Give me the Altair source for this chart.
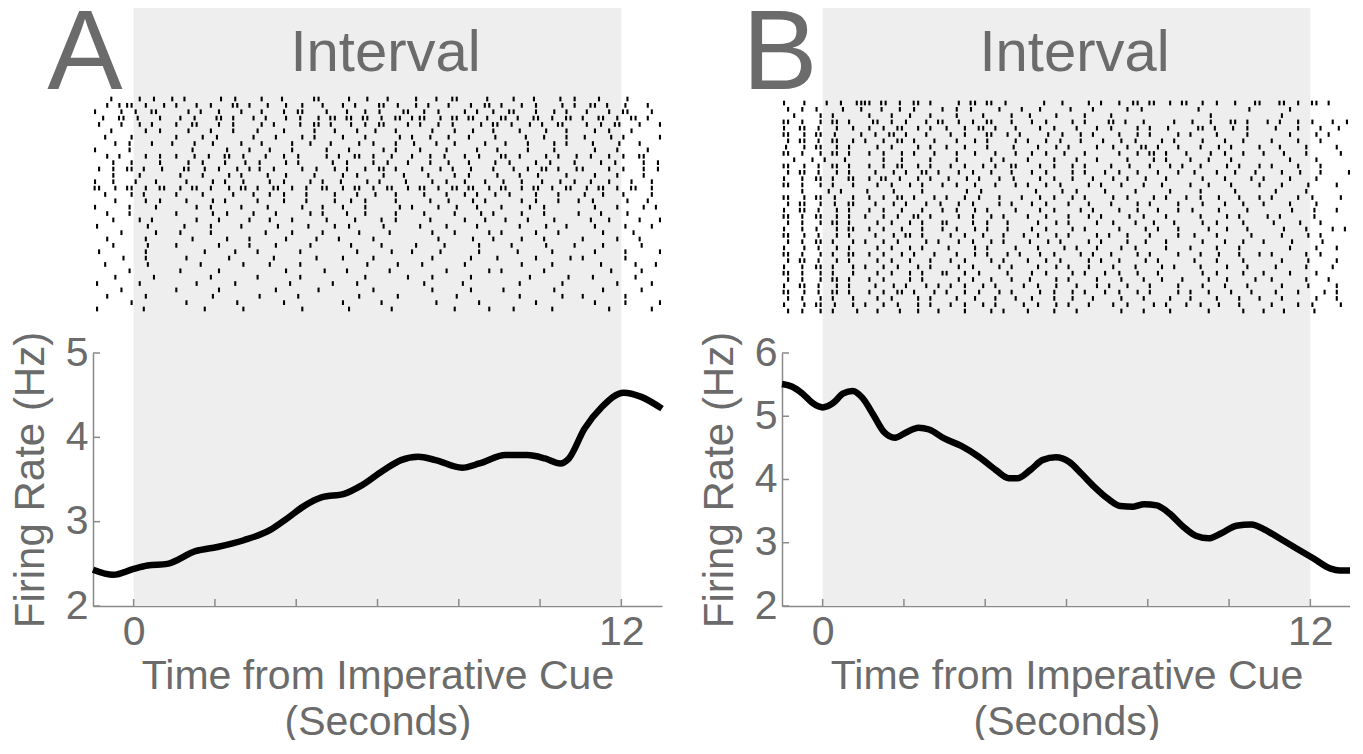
import altair as alt
import pandas as pd

# ---------------- data ----------------
interval = [0, 12]
x_domain = [-1, 13]
x_tick_marks = [0, 2, 4, 6, 8, 10, 12]
x_tick_labels = [0, 12]
y_ticks_a = [2, 3, 4, 5]
y_ticks_b = [2, 3, 4, 5, 6]

rate_a_t = [-1.0, -0.5, 0.0, 0.34, 0.83, 1.52, 2.06, 2.71, 3.35, 3.78, 4.21, 4.64, 5.18, 5.61, 6.15,
            6.58, 7.0, 7.43, 8.08, 8.51, 9.15, 9.69, 10.12, 10.5, 10.71, 11.09, 11.52, 12.06, 12.49, 13.0]
rate_a_hz = [2.43, 2.37, 2.44, 2.48, 2.50, 2.65, 2.70, 2.78, 2.90, 3.04, 3.19, 3.29, 3.33, 3.43, 3.61,
             3.73, 3.77, 3.73, 3.64, 3.69, 3.79, 3.79, 3.75, 3.69, 3.75, 4.10, 4.36, 4.53, 4.48, 4.34]

rate_b_t = [-1.0, -0.76, -0.5, -0.23, 0.0, 0.24, 0.51, 0.74, 0.98, 1.25, 1.51, 1.78, 2.04, 2.36, 2.62,
            2.99, 3.41, 3.84, 4.26, 4.58, 4.79, 5.11, 5.42, 5.74, 6.06, 6.37, 6.69, 7.01, 7.33, 7.64,
            7.91, 8.22, 8.54, 8.86, 9.18, 9.49, 9.81, 10.18, 10.55, 10.87, 11.24, 11.66, 12.08, 12.5, 12.72, 13.0]
rate_b_hz = [5.51, 5.47, 5.36, 5.20, 5.14, 5.20, 5.36, 5.40, 5.29, 5.02, 4.75, 4.66, 4.74, 4.82, 4.79,
             4.65, 4.53, 4.36, 4.15, 4.02, 4.02, 4.15, 4.31, 4.35, 4.28, 4.09, 3.88, 3.70, 3.58, 3.57,
             3.61, 3.59, 3.46, 3.26, 3.11, 3.07, 3.15, 3.27, 3.29, 3.21, 3.07, 2.91, 2.75, 2.59, 2.56, 2.56]

# Spike rasters, one string per trial; 7 chunks of 2 s (from -1 s), each char = 0.2 s bin
# '.' none, '1' spike early in bin, '4' mid bin, '2' late in bin, '3' early + late
raster_a = [
    "..1..2.4.2 .1...2.4.. 2..1...3.. .4.2..1..2 ..1.3...4. .2..1..4.1 ..1..2....",
    ".2.13.4.2. 1.2.4..3.1 .4.2.2..1. 2.1..3.4.2 .1.2..4.3. 1.2.4..2.1 .3.1.4..1.",
    "1..4.1.3.. .2.1.4..1. 2..4.3..2. .1.4.1..3. 2.4..2.1.1 .3..4.2.1. 2..4.3..2.",
    ".1.3.4..1. 2.4..3.1.2 .1.2.4.2.3 .3.3.4.3.1 3.2.3.3.4. 3.1.3.4.3. 1.3.4.3.1.",
    "2..4.2.1.. 1.3..4.1.. 2.1..4.3.1 .2.4.3..2. 1.4.1..2.3 .4.2.1.3.. 2.4.3..1.2",
    "..1...4.1. .2..4..1.. 1..4...1.2 ..4.2..1.. .2..4.2..1 ..4..2..1. .2.4..1...",
    ".4..2..... 1..4.1...2 ..4..2.1.. 2..4...2.1 .4.2..1..4 ...1.4..1. 4..2.1...2",
    "..2.4..1.2 ..4.2...1. 2...4.2..1 ..2.4..1.4 ..1.4...1. 2..4..2.1. .4..2..1..",
    "1...4..... ..1...4..1 .2..4...2. .4...2.1.. 1..4...1.2 ...4..2... .2..4...1.",
    ".2.1..4.1. 1.4.1.3.4. .1.4.1..2. 1.3.4.2..1 .4.1.2.4.. 3.4..2.1.4 .1.4.1.3..",
    "..4.2...1. .2.4..1.2. 4..2.1...4 .1..4.1.2. .4.2..1..4 .1..4.1..1 ..4.1..2.4",
    "2.4.3.1.4. .3.2.4.2.1 4.1..2.4.2 .1.4.3.1.. 4.2.1.4..1 .2.4.3.1.4 1..4.1.2.4",
    "..4..2.... 2..4..2.1. .4.2...1.. 2.4..2..1. .1..4.1..2 ..4.2...1. .2..4..2..",
    "1.4..1.2.. .4..2.1.4. .2.4..2.1. 4..2.1..4. .2.4.2..1. 4.2..1.4.1 .1.4..1.2.",
    "3.2.3.4.3. 2.3.4.2.3. 1.3.4.1.3. 2.3.4.3.2. 3.4.3.3.2. 3.2.3.4.3. 2.3.4.3.2.",
    ".4..2.1... 1..4...1.2 .2.4..1..2 ..4.2..1.. 2..4.2.1.4 .1..4..1.. 4.2..1..2.",
    "..2...4.1. .4..2.1... 1..4..1..2 .2.4...1.. .4.2..2.1. ..2.4..1.2 .4...2..1.",
    "1...4..2.. ..2.4...1. .4...2..1. 2..4...2.1 ..4.2..1.. 1..2.4.... .2..4..2.1",
    ".2..4..... 1...2.4..2 ..4...2.1. .1.4...1.. 2...4..2.1 ..2..4...2 ..4..2....",
    "..4..2.1.. ..2..4...1 .2..4...2. ..1..4.1.. .4...2..1. 2..4..2... .1.4...1.2",
    "4.....2... .1..4...1. ..2...4..2 .4...2.... 1..4...1.. ..4..2..1. .2...4..2.",
    "...4...2.. 2...4..... .1..4...1. ..2...4... .2..4...2. 1...4..1.. ..2...4...",
    ".2....4... ..1...4..1 ...2...4.. 1...4..... ..4...2..1 ..2..4.... 1...4..1..",
    "..4...2... 1....4...1 ..4...2... .2...4...2 ...1...4.. .4...2...1 ..2....4..",
    "2.....4... ...2...4.. 1....4.... ..4...2..1 ..2....4.. ..1...4... .2...4...2",
    "...2..4... .4....2... ..1....4.. 2...4..... .2....4..2 ....4...2. 1....4....",
    ".4....2... ...1....4. .2...4.... ...2...4.. 4....2.... ..2...4... ..4...2..1",
    "....4..... 2....4.... ...2....4. .1....4... ...4....2. 1....4.... ...2...4..",
    "..2....4.. ....4..... 1....4.... ...4....2. .2....4... ...2....4. .4....2...",
    "4....2.... ..2....4.. ....1....4 ..4....... 2....4.... ..4....2.. ....4...2.",
    "...4...... 1....4.... ..4....2.. ....4..... .2....4... 4.....2... ..2....4..",
    ".2....4... ....2..... 4....1.... ..2....4.. ....2..... ..4....2.. 1....4....",
    "....2..... .4.....2.. ...4...... 2....4.... ..1....4.. ....4..... .2...4...2",
    "4.....1... ...2....4. .....2.... .4....2... ....4...2. .2....4... ...4....2.",
]

raster_b = [
    "1.2..4.1.3 3.3.4.3.1. .2.3.3.4.. ..1.4..2.1 .4.3.3.2.3 .2.4.2..3. .3.4.3.1..",
    "2.4.1..4.2 ..1.4.1..2 .4.1..2..4 .2...4..1. ..4.1..... .1.....4.. ..4.......",
    ".4..2.1... 2..4.2..1. .4..2...1. 4..2...1.. 4......... ..2....... .4........",
    "3.4.2.3.1. .3.4.1.2.3 .2.4.3..1. 2.4..2.1.. 3.1.4...1. 4.2..3.1.2 .1.4.1.2.4",
    "1.3.4.2.2. 2.4.3.2.1. 1.4.3.1.2. .2.4..1.2. 4..2.1.4.. .3.1.4.1.. 2..4..1.4.",
    "3.2.3.4..2 .4.3.1.2.. 2.4..3.2.1 ..2.4.2.1. .4.2.1..2. 1..4...1.. ..4..2.1..",
    "2.3.4.3.2. 1.4.3.1.2. .4.2.1..2. 1.4.1.2..4 .2.4..2.1. .2..4.2... 1..4..1...",
    "4.2.3.2.1. .2.4..2.1. 1.4..1..4. .4.2.1..2. 2.4.3.1.2. .4.2.1..2. .1..4...1.",
    "3.4.2.3.1. 2.4.2.1.2. .4.2..1.2. 2.4.2..1.. .4.2.3.1.2 ..2.4.2..1 .2..4...2.",
    ".4.2.1.2.. ..4.2...1. .4...2.1.. 1..4..1.2. ..4..2.1.. 1.4..1.... ..4..2....",
    "3.2.4.3.1. 2.4.3.2.1. 2.4.2.1.3. .2.4.2.1.. 4.2..1.2.1 .4..2.1.2. 1..4..1...",
    "2.3.4.2.1. .4.2.1.3.1 .2.4.2..1. 2.4..2.1.2 .4.2..1.2. 2..4.2..1. .4.2..1..2",
    "1.4.3.1.3. 2.3.4.2.1. 4.2.1.2.4. .2.4.2..1. 2.4.2..1.. .2..4..2.1 ..4..2....",
    "3.4.2.1.2. .2.4.2.1.2 .4.2..1.2. 1.4.1..2.1 .2..4.2... 1.4..1..2. .4..2...1.",
    "..4..2.1.. 4..2...1.. ..2.4..... .1..4.1..2 ...4...2.. .4...2.... 2...4.....",
    "3.2.3.4.2. 2.4.3.1.2. 1.4.1.2..4 .2.4.2.1.. 2.4..2.1.2 .4.2..1.2. 1..4.1..2.",
    "2.3.2.4.3. .4.2.1.2.4 .2.4..2.1. 2.4..1.2.. 4..2.1..2. .2..4.2..1 ..4..2....",
    "1.3.4.2.1. 2.4.2..1.2 .4.2.1..2. .2.4..2.1. .4.2..1.2. 4..2...1.. ..2..4..1.",
    "3.4.3.2.1. 1.4.1.3.1. .2.4.2.1.. 1.4..1.2.1 ..2.4..1.. .4..2.1..2 .1...4....",
    "2.4.2.3.1. .2.4.2.1.2 1..4.1.2.. .4.2.1..2. 2..4.2..1. .2.4..2... 4..2..1...",
    "1.4.1.2.3. 2.4.2..1.2 .4.2.1.2.. 2.4..2.1.. .4..2.1.2. ..4.2..1.. .2..4..2.1",
    "3.2.4.2.1. .4.2.3.1.. 2.4.2..1.2 .4.2.1..2. 1.4..1..2. 2..4...2.. .4..2.1...",
    "2.4.3.1.2. 1.4.1..2.1 .2.4.2.1.. 4.2.1..2.1 ..4.2..1.. .2..4.2..1 ..2...4...",
    "1.2.4.2.1. .2.4.2.1.. 4..2.1..2. .4..2.1.2. .2.4...1.. 1..4..1... ..4..2..1.",
    "3.4.2.1.3. 2.4.2.1.2. .4.2.1.2.1 .2.4..2.1. 4..2.1..2. .4.2..1.2. 1...4.1...",
    "2.3.4.2.1. .2.4.2..1. 2.4..2.1.. 1.4.1..2.1 .4..2.1... 2..4..2... .4..2...1.",
    "1.4.3.1.2. 1.4.1.2.1. .2.4..2.1. .4.2.1.2.. 2..4..2.1. .4..2..1.. 2...4..2..",
    "3.4.2.1.2. .2.4.2.1.2 1.4.1..2.. 2.4..2.1.2 .4.2..1... .2.4..2..1 ..4..2....",
    "2.4.2.3.1. 2.4..2.1.. .2.4.2..1. 4..2.1..2. .2..4.2..1 ..4.2...1. 1...4..1..",
    "1.3.4.2.1. .4.2.1.2.1 2.4.2.1..2 .4.2..1.2. 1.4..1..2. .2..4..1.. .4..2...1.",
    "3.2.4.3.1. 2.4.3.1.2. 1.4.1.2.1. .2.4.2.1.2 .4.2.1..2. 1.4..1.2.. 2..4..2.1.",
    "2.4.2.1.2. .2.4..2.1. .4.2..1.2. 2..4.2..1. .2..4..2.. 1..4..1.2. .4...2..1.",
    "1.2.3.4.2. 1.4.1.2.1. 2.4.2.1..2 .4.2.1.2.. 2.4..2.1.2 .4.2..1... 1..4.1..2.",
    "2.4.2.1..1 .2..4.2..1 ..4..2.1.. 1..4..1... .2..4..2.. ..4...2..1 .2...4....",
]

# ---------------- style / layout ----------------
FONT = "Liberation Sans"
TXT = "#6b6b6b"
AXC = "#8a8a8a"
SHADE = "#eeeeee"
W = 569
H_TOP = 347
H_BOT = 253
OFFS = {"1": [0.05], "2": [0.15], "3": [0.04, 0.15], "4": [0.1]}


def spikes(rows):
    out = []
    for r, row in enumerate(rows):
        for k, chunk in enumerate(row.split()[:7]):
            for j, c in enumerate(chunk[:10]):
                t0 = x_domain[0] + 2 * k + 0.2 * j
                for o in OFFS.get(c, []):
                    out.append((round(t0 + o, 3), r))
    return pd.DataFrame(out, columns=["t", "trial"])


xscale = alt.Scale(domain=x_domain, nice=False, zero=False)
shade_df = pd.DataFrame({"start": [interval[0]], "end": [interval[1]]})


def top_panel(rows, letter, letter_dx, row0_px, rowN_px):
    n = len(rows)
    s = (rowN_px - row0_px) / (n - 1)
    ydom = [-row0_px / s, (n - 1) + (H_TOP - rowN_px) / s]
    df = spikes(rows)
    shade = alt.Chart(shade_df).mark_rect(color=SHADE).encode(
        x=alt.X("start:Q", scale=xscale, axis=None),
        x2="end:Q",
        y=alt.value(0),
        y2=alt.value(H_TOP),
    )
    sp = alt.Chart(df).transform_calculate(
        lo="datum.trial - 0.37", hi="datum.trial + 0.37"
    ).mark_rule(color="black", strokeWidth=2.1).encode(
        x=alt.X("t:Q", scale=xscale, axis=None),
        y=alt.Y("lo:Q", scale=alt.Scale(domain=ydom, reverse=True, nice=False, zero=False), axis=None),
        y2="hi:Q",
    )
    lab = alt.Chart(pd.DataFrame({"label": ["Interval"], "mid": [(interval[0] + interval[1]) / 2]})).mark_text(
        fontSize=58, color=TXT, font=FONT, baseline="alphabetic", align="center", dx=8
    ).encode(x=alt.X("mid:Q", scale=xscale, axis=None), y=alt.value(65), text="label:N")
    let = alt.Chart(pd.DataFrame({"label": [letter]})).mark_text(
        fontSize=113, color=TXT, font=FONT, baseline="alphabetic", align="center"
    ).encode(x=alt.value(letter_dx), y=alt.value(83), text="label:N")
    return alt.layer(shade, sp, lab, let).properties(width=W, height=H_TOP)


def bottom_panel(ts, hz, yticks):
    df = pd.DataFrame({"t": ts, "hz": hz})
    ydom = [yticks[0], yticks[-1]]
    yscale = alt.Scale(domain=ydom, nice=False, zero=False)
    shade = alt.Chart(shade_df).mark_rect(color=SHADE).encode(
        x=alt.X("start:Q", scale=xscale,
                axis=alt.Axis(values=x_tick_labels, ticks=False, grid=False, format="d",
                              domainColor=AXC, domainWidth=1.5, labelFontSize=41, labelColor=TXT,
                              labelFont=FONT, labelPadding=6, labelFlush=False,
                              title=["Time from Imperative Cue", "(Seconds)"], titleFontSize=41,
                              titleFont=FONT, titleColor=TXT, titleFontWeight="normal",
                              titlePadding=4, titleLineHeight=46)),
        x2="end:Q",
        y=alt.value(0),
        y2=alt.value(H_BOT),
    )
    xt = alt.Chart(pd.DataFrame({"v": x_tick_marks})).mark_rule(color=AXC, strokeWidth=1.5).encode(
        x=alt.X("v:Q", scale=xscale), y=alt.value(H_BOT), y2=alt.value(H_BOT - 7)
    )
    yt = alt.Chart(pd.DataFrame({"v": yticks})).mark_rule(color=AXC, strokeWidth=1.5).encode(
        y=alt.Y("v:Q", scale=yscale), x=alt.value(0), x2=alt.value(7)
    )
    line = alt.Chart(df).mark_line(color="black", strokeWidth=6.5, interpolate="monotone").encode(
        x=alt.X("t:Q", scale=xscale),
        y=alt.Y("hz:Q", scale=yscale,
                axis=alt.Axis(values=yticks, ticks=False, grid=False, format="d",
                              domainColor=AXC, domainWidth=1.5, labelFontSize=41, labelColor=TXT,
                              labelFont=FONT, labelPadding=5, labelFlush=False,
                              title="Firing Rate (Hz)", titleFontSize=42, titleFont=FONT,
                              titleColor=TXT, titleFontWeight="normal", titlePadding=13)),
    )
    return alt.layer(shade, xt, yt, line).properties(width=W, height=H_BOT)


topA = top_panel(raster_a, "A", -8, 93, 303)
topB = top_panel(raster_b, "B", -2, 97, 305)
botA = bottom_panel(rate_a_t, rate_a_hz, y_ticks_a)
botB = bottom_panel(rate_b_t, rate_b_hz, y_ticks_b)

chart = alt.concat(
    topA, topB, botA, botB, columns=2,
    spacing={"row": 0, "column": 120}, bounds="flush", align="each",
).properties(
    padding={"left": 1, "top": -9, "right": -14, "bottom": -2}
).configure(font=FONT, view=alt.ViewConfig(stroke=None))

chart.save("out.html", embed_options={"renderer": "svg", "actions": False})
